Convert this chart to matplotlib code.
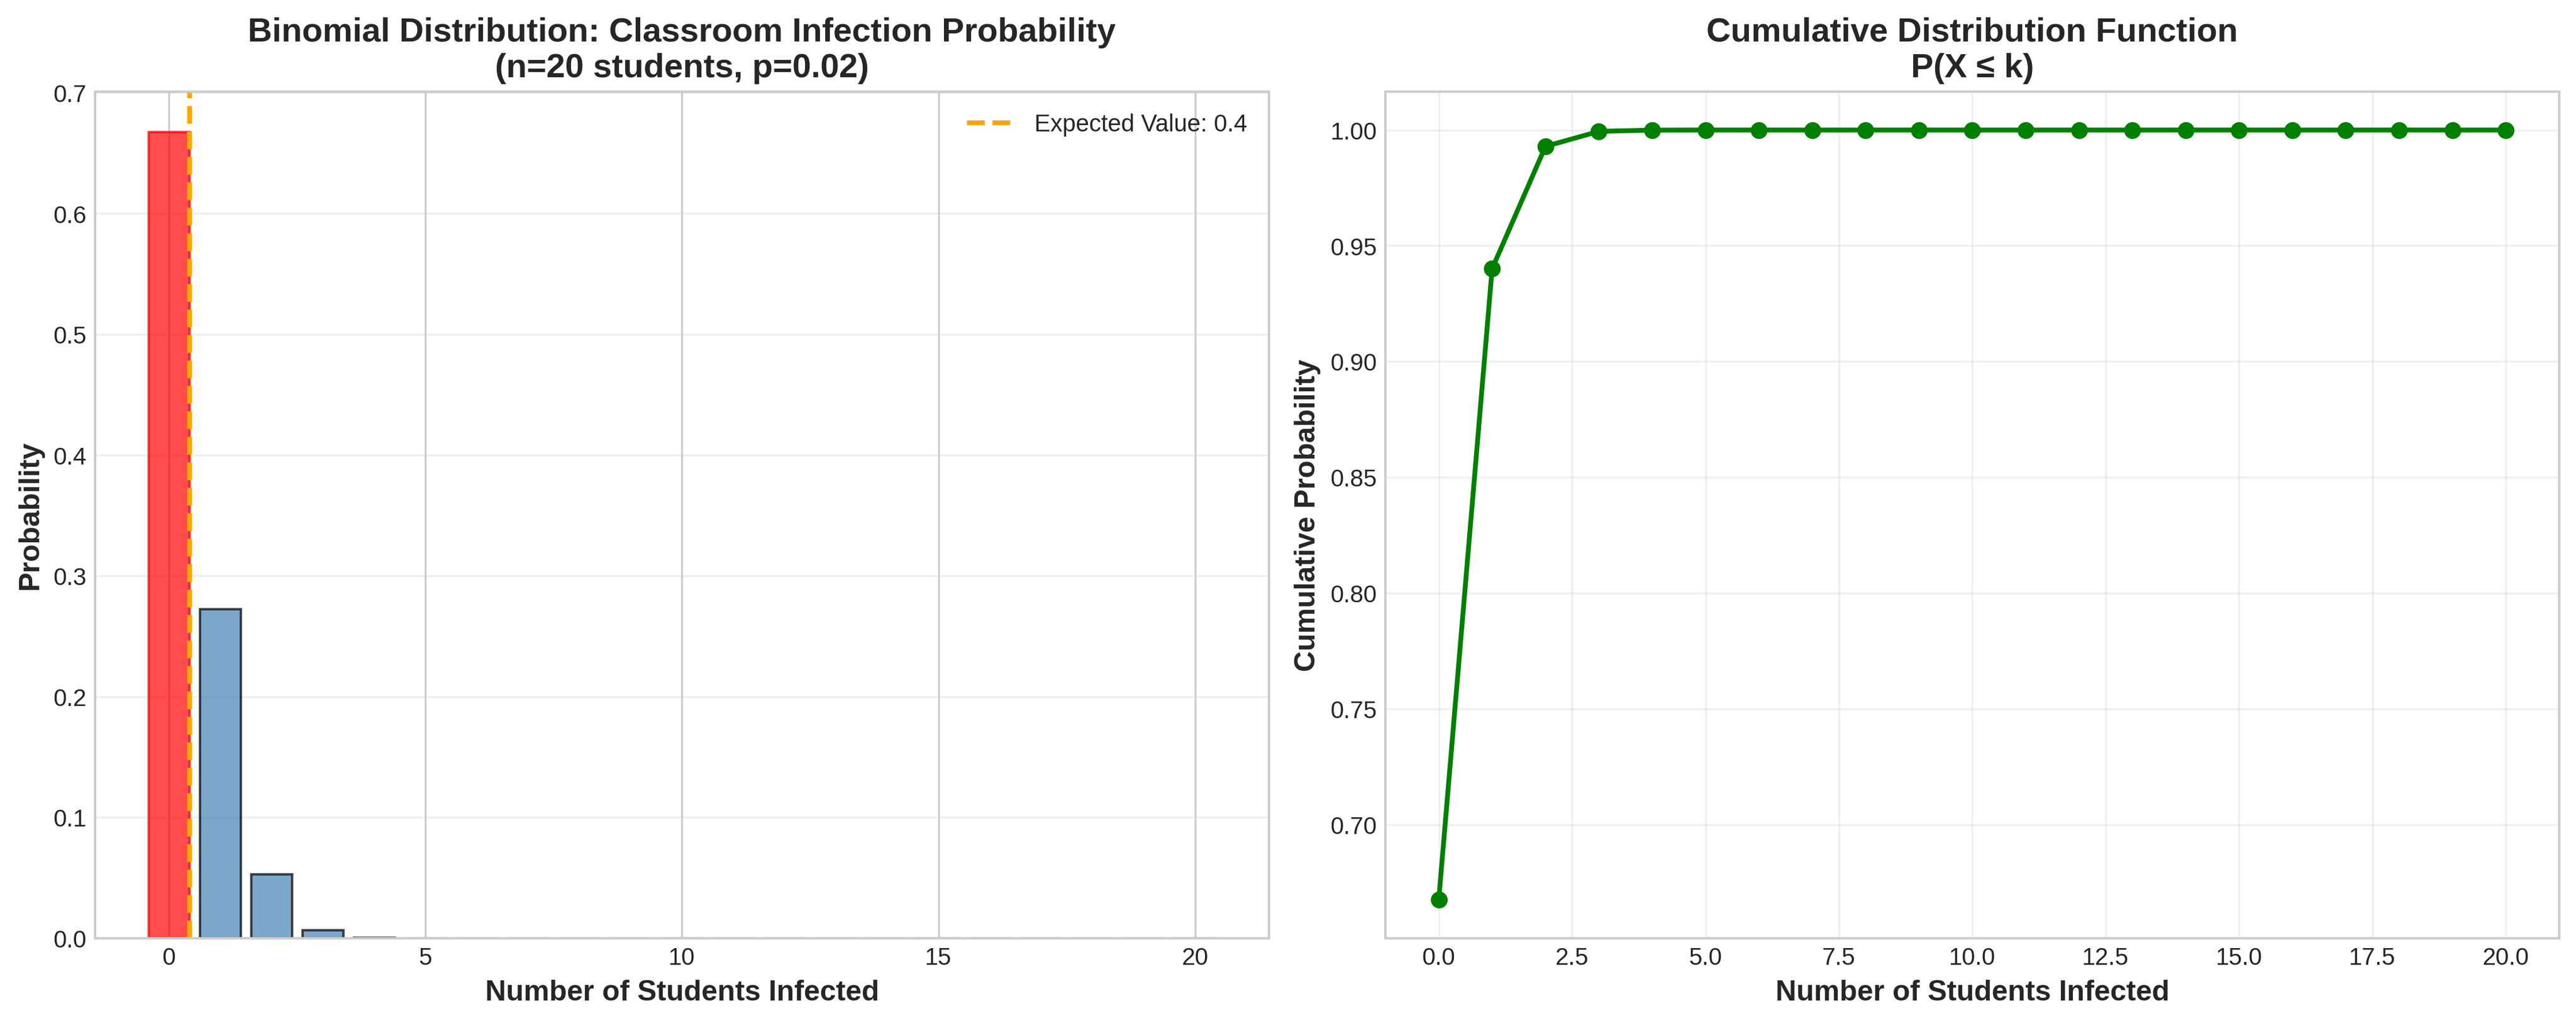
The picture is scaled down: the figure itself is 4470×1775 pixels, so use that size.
import matplotlib
matplotlib.use("Agg")
import matplotlib.pyplot as plt
import numpy as np

plt.style.use("seaborn-v0_8-whitegrid")
plt.rcParams['font.family'] = ['Liberation Sans', 'DejaVu Sans']

k_values = list(range(21))
pmf_values = [0.66761, 0.27249, 0.05283, 0.00647, 0.00056, 0.00004, 0.0, 0.0, 0.0, 0.0,
              0.0, 0.0, 0.0, 0.0, 0.0, 0.0, 0.0, 0.0, 0.0, 0.0, 0.0]
cdf_values = [0.66761, 0.94010, 0.99293, 0.99940, 0.99996, 1.0, 1.0, 1.0, 1.0, 1.0,
              1.0, 1.0, 1.0, 1.0, 1.0, 1.0, 1.0, 1.0, 1.0, 1.0, 1.0]
expected_value = 0.4

fig, (ax1, ax2) = plt.subplots(1, 2, figsize=(15, 6))

bars = ax1.bar(k_values, pmf_values, color='steelblue', edgecolor='black', alpha=0.7)
bars[0].set_color('red')
ax1.axvline(expected_value, color='orange', linestyle='--', linewidth=2,
            label=f'Expected Value: {expected_value}')
ax1.set_xlabel('Number of Students Infected', fontsize=12, fontweight='bold')
ax1.set_ylabel('Probability', fontsize=12, fontweight='bold')
ax1.set_title('Binomial Distribution: Classroom Infection Probability\n(n=20 students, p=0.02)',
              fontsize=14, fontweight='bold')
ax1.legend()
ax1.grid(True, alpha=0.3, axis='y')

ax2.plot(k_values, cdf_values, 'o-', color='green', linewidth=2, markersize=6)
ax2.set_xlabel('Number of Students Infected', fontsize=12, fontweight='bold')
ax2.set_ylabel('Cumulative Probability', fontsize=12, fontweight='bold')
ax2.set_title('Cumulative Distribution Function\nP(X ≤ k)', fontsize=14, fontweight='bold')
ax2.grid(True, alpha=0.3)

plt.tight_layout()
plt.savefig('out.png', dpi=300, bbox_inches='tight')
